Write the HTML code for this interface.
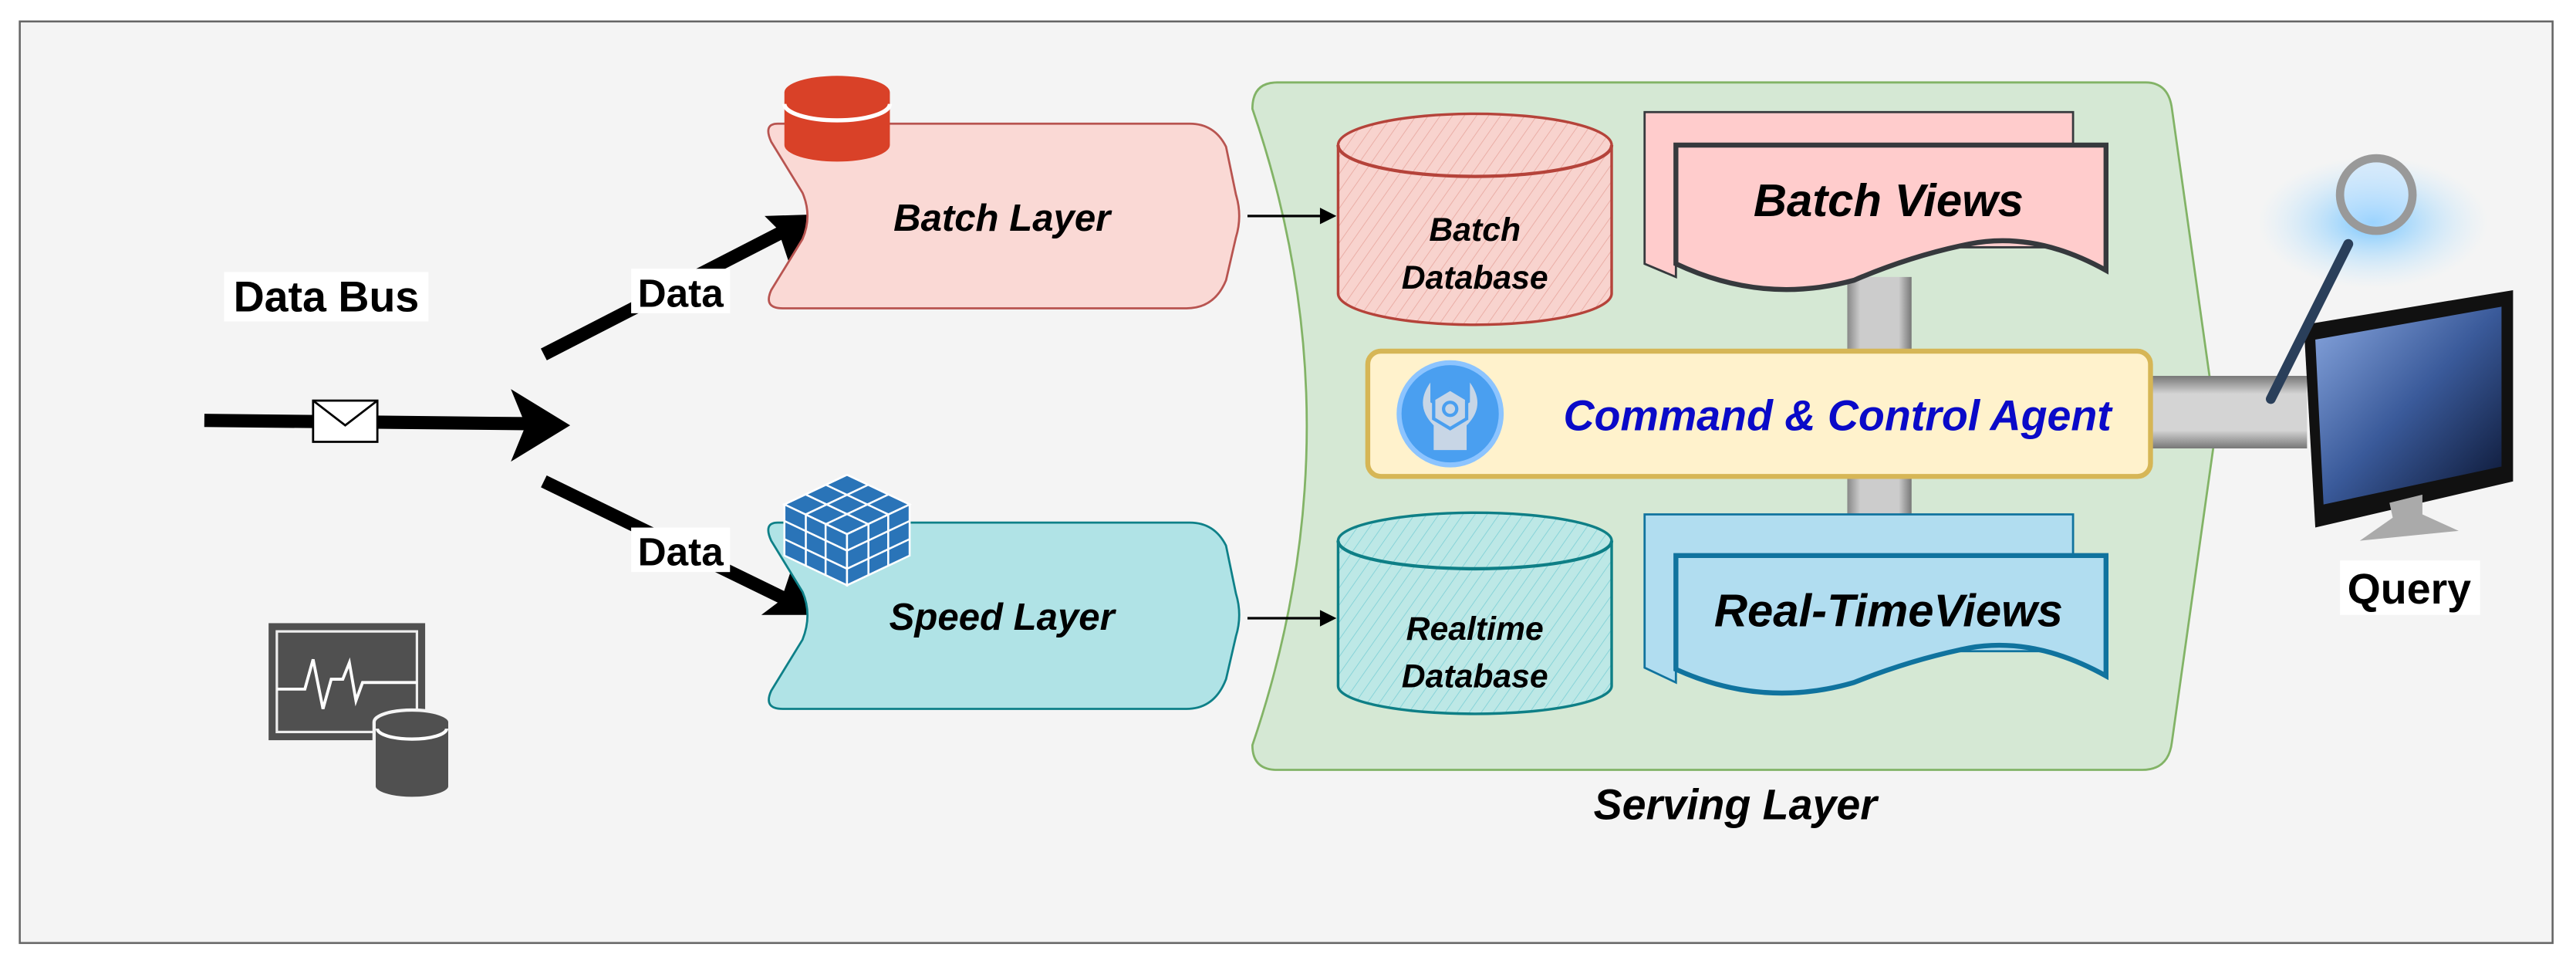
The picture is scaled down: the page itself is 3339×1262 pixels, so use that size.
<!DOCTYPE html>
<html><head><meta charset="utf-8"><style>
html,body{margin:0;padding:0;background:#fff;}
svg{display:block;}
text{font-family:"Liberation Sans",sans-serif;font-weight:bold;}
</style></head><body>
<svg width="3339" height="1262" viewBox="0 0 1563.2 590.8" xmlns="http://www.w3.org/2000/svg">
<defs>
<pattern id="hr" width="6" height="6" patternUnits="userSpaceOnUse" patternTransform="rotate(35)">
<line x1="0" y1="0" x2="0" y2="6" stroke="#e8a8a0" stroke-width="0.8"/></pattern>
<pattern id="ht" width="6" height="6" patternUnits="userSpaceOnUse" patternTransform="rotate(35)">
<line x1="0" y1="0" x2="0" y2="6" stroke="#7fd0d6" stroke-width="0.8"/></pattern>
<linearGradient id="pv" x1="0" x2="1"><stop offset="0" stop-color="#888"/><stop offset="0.2" stop-color="#ccc"/><stop offset="0.8" stop-color="#ccc"/><stop offset="1" stop-color="#777"/></linearGradient>
<linearGradient id="ph" x1="0" x2="0" y1="0" y2="1"><stop offset="0" stop-color="#777"/><stop offset="0.25" stop-color="#d4d4d4"/><stop offset="0.75" stop-color="#d4d4d4"/><stop offset="1" stop-color="#777"/></linearGradient>
<linearGradient id="scr" x1="0" y1="0" x2="1" y2="1"><stop offset="0" stop-color="#8aa8e0"/><stop offset="0.5" stop-color="#3a5a9a"/><stop offset="1" stop-color="#0a1430"/></linearGradient>
<radialGradient id="glow"><stop offset="0" stop-color="#6ac0ff" stop-opacity="0.9"/><stop offset="1" stop-color="#bfe6ff" stop-opacity="0"/></radialGradient>
</defs>
<rect x="12" y="13" width="1537" height="559" fill="#f4f4f4" stroke="#666" stroke-width="1.2"/>

<!-- Data bus -->
<rect x="136" y="165" width="124" height="30" fill="#fff"/>
<text x="198" y="189" font-size="26" text-anchor="middle">Data Bus</text>
<line x1="124" y1="255" x2="320" y2="257" stroke="#000" stroke-width="8"/>
<polygon points="310,236 346,258 310,280 319,258" fill="#000"/>
<rect x="190" y="243" width="39" height="25" fill="#fff" stroke="#000" stroke-width="1.3"/>
<polyline points="190,243 209.5,258 229,243" fill="none" stroke="#000" stroke-width="1.3"/>

<line x1="330" y1="215" x2="478" y2="139" stroke="#000" stroke-width="8"/>
<polygon points="496,130 464,131 472,139 479,160" fill="#000"/>
<line x1="330" y1="292" x2="478" y2="364" stroke="#000" stroke-width="8"/>
<polygon points="494,373 480,346 474,364 462,373" fill="#000"/>
<rect x="383" y="163" width="60" height="27" fill="#fff"/>
<text x="413" y="186" font-size="24" text-anchor="middle">Data</text>
<rect x="383" y="320" width="60" height="27" fill="#fff"/>
<text x="413" y="343" font-size="24" text-anchor="middle">Data</text>

<!-- Batch layer -->
<path d="M472,75 H722 Q737,75 744,89 L750,118 Q754,131 750,144 L744,170 Q737,187 720,187 H475 Q463,187 468,176 L487,145 Q493,131 487,117 L468,86 Q463,75 472,75 Z" fill="#fad9d5" stroke="#b85450" stroke-width="1.3"/>
<text x="608" y="140" font-size="23" font-style="italic" text-anchor="middle">Batch Layer</text>
<path d="M476,56 A32,10 0 0 1 540,56 V88 A32,10 0 0 1 476,88 Z" fill="#d94128"/>
<path d="M476,63 A32,10 0 0 0 540,63" fill="none" stroke="#fff" stroke-width="2.5"/>

<!-- Speed layer -->
<path d="M472,317 H722 Q737,317 744,331 L750,360 Q754,373 750,386 L744,412 Q737,430 720,430 H475 Q463,430 468,419 L487,388 Q493,373 487,359 L468,328 Q463,317 472,317 Z" fill="#b0e3e6" stroke="#0e8088" stroke-width="1.3"/>
<text x="608" y="382" font-size="23" font-style="italic" text-anchor="middle">Speed Layer</text>
<g fill="#2a74b8" stroke="#fff" stroke-width="1.2">
<polygon points="514,288 552,306 514,324 476,306"/>
<polygon points="476,306 514,324 514,355 476,337"/>
<polygon points="552,306 514,324 514,355 552,337"/>
<line x1="489" y1="300" x2="527" y2="318"/><line x1="501" y1="294" x2="539" y2="312"/>
<line x1="539" y1="300" x2="501" y2="318"/><line x1="527" y1="294" x2="489" y2="312"/>
<line x1="476" y1="316" x2="514" y2="334"/><line x1="476" y1="327" x2="514" y2="345"/>
<line x1="552" y1="316" x2="514" y2="334"/><line x1="552" y1="327" x2="514" y2="345"/>
<line x1="489" y1="312" x2="489" y2="343"/><line x1="501" y1="318" x2="501" y2="349"/>
<line x1="539" y1="312" x2="539" y2="343"/><line x1="527" y1="318" x2="527" y2="349"/>
</g>

<!-- Serving -->
<path d="M775,50 H1302 Q1316,50 1318,66 L1345,258 L1318,450 Q1316,467 1300,467 H775 Q760,467 760,452 Q826,258 760,66 Q760,50 775,50 Z" fill="#d5e8d4" stroke="#82b366" stroke-width="1.3"/>
<text x="1053" y="497" font-size="26" font-style="italic" text-anchor="middle">Serving Layer</text>

<!-- small arrows -->
<line x1="757" y1="131" x2="804" y2="131" stroke="#000" stroke-width="1.5"/>
<polygon points="811,131 801,126 801,136" fill="#000"/>
<line x1="757" y1="375" x2="804" y2="375" stroke="#000" stroke-width="1.5"/>
<polygon points="811,375 801,370 801,380" fill="#000"/>

<!-- pipes -->
<rect x="1121" y="168" width="39" height="148" fill="url(#pv)"/>
<rect x="1300" y="228" width="100" height="44" fill="url(#ph)"/>

<!-- Batch DB -->
<path d="M812,88 A83,19 0 0 1 978,88 V178 A83,19 0 0 1 812,178 Z" fill="#f8d3ce"/>
<path d="M812,88 A83,19 0 0 1 978,88 V178 A83,19 0 0 1 812,178 Z" fill="url(#hr)" stroke="#b5433a" stroke-width="1.6"/>
<path d="M812,88 A83,19 0 0 0 978,88" fill="none" stroke="#b5433a" stroke-width="2"/>
<text x="895" y="146" font-size="20" font-style="italic" text-anchor="middle">Batch</text>
<text x="895" y="175" font-size="20" font-style="italic" text-anchor="middle">Database</text>

<!-- Realtime DB -->
<path d="M812,328 A83,17 0 0 1 978,328 V416 A83,17 0 0 1 812,416 Z" fill="#bde8e6"/>
<path d="M812,328 A83,17 0 0 1 978,328 V416 A83,17 0 0 1 812,416 Z" fill="url(#ht)" stroke="#0e7f86" stroke-width="1.6"/>
<path d="M812,328 A83,17 0 0 0 978,328" fill="none" stroke="#0e7f86" stroke-width="2"/>
<text x="895" y="388" font-size="20" font-style="italic" text-anchor="middle">Realtime</text>
<text x="895" y="417" font-size="20" font-style="italic" text-anchor="middle">Database</text>

<!-- Batch Views -->
<path d="M998,68 H1258 V150 H1017 V168 L998,160 Z" fill="#ffcccc" stroke="#36393d" stroke-width="1.3"/>
<path d="M1017,88 H1278 V164 Q1235,140 1195,148 Q1160,155 1125,170 Q1070,185 1017,160 Z" fill="#ffcccc" stroke="#36393d" stroke-width="3"/>
<text x="1146" y="131" font-size="28" font-style="italic" text-anchor="middle">Batch Views</text>

<!-- Real-time Views -->
<path d="M998,312 H1258 V395 H1017 V414 L998,405 Z" fill="#b1ddf0" stroke="#10739e" stroke-width="1.3"/>
<path d="M1017,337 H1278 V410 Q1235,386 1195,393 Q1160,400 1125,414 Q1070,430 1017,406 Z" fill="#b1ddf0" stroke="#10739e" stroke-width="3"/>
<text x="1146" y="380" font-size="28" font-style="italic" text-anchor="middle">Real-TimeViews</text>

<!-- C&C agent -->
<rect x="830" y="213" width="475" height="76" rx="8" fill="#fff2cc" stroke="#d6b656" stroke-width="3"/>
<circle cx="880" cy="251" r="31" fill="#4a9ff0" stroke="#8cc4ff" stroke-width="3"/>
<path d="M868,232 Q858,246 870,258 V273 H890 V258 Q902,246 892,232 L892,244 L880,251 L868,244 Z" fill="#c8d6e6"/>
<polygon points="880,236 890,242 890,254 880,260 870,254 870,242" fill="#c8d6e6" stroke="#4a9ff0" stroke-width="2"/>
<circle cx="880" cy="248" r="4" fill="#c8d6e6" stroke="#4a9ff0" stroke-width="2"/>
<text x="1115" y="261" font-size="26" font-style="italic" text-anchor="middle" fill="#0a0ac8">Command &amp; Control Agent</text>

<!-- Query monitor -->
<ellipse cx="1440" cy="135" rx="70" ry="40" fill="url(#glow)"/>
<polygon points="1398,197 1525,176 1525,292 1405,320" fill="#111"/>
<polygon points="1405,206 1518,186 1518,283 1410,306" fill="url(#scr)"/>
<polygon points="1450,305 1470,300 1470,312 1492,322 1432,328 1452,314" fill="#aaa"/>
<line x1="1425" y1="148" x2="1378" y2="242" stroke="#2a3f5a" stroke-width="6" stroke-linecap="round"/>
<circle cx="1442" cy="118" r="22" fill="#bfe2ff" fill-opacity="0.5" stroke="#999" stroke-width="5"/>
<rect x="1420" y="340" width="85" height="33" fill="#fff"/>
<text x="1462" y="366" font-size="26" text-anchor="middle">Query</text>

<!-- monitor db icon -->
<rect x="163" y="378" width="95" height="71" fill="#505050"/>
<rect x="168" y="383" width="85" height="61" fill="none" stroke="#eee" stroke-width="1.5"/>
<polyline points="168,418 185,418 190,400 196,430 201,412 208,412 212,402 216,425 220,414 253,414" fill="none" stroke="#fff" stroke-width="1.8"/>
<path d="M227,438 A22,7 0 0 1 273,438 V477 A22,7 0 0 1 227,477 Z" fill="#505050" stroke="#f4f4f4" stroke-width="2"/>
<path d="M229,442 A20,6 0 0 0 271,442" fill="none" stroke="#fff" stroke-width="2"/>
</svg>
</body></html>
